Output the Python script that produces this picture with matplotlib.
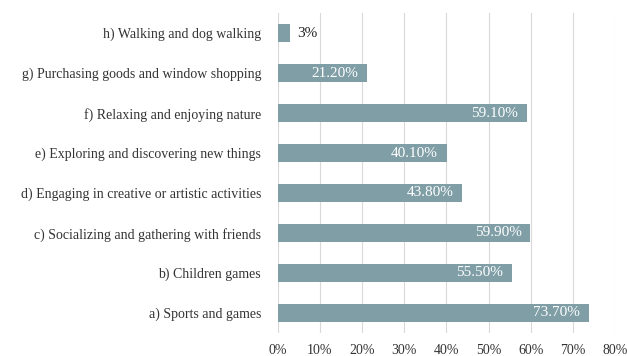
import matplotlib.pyplot as plt

categories = ['a) Sports and games', 'b) Children games',
              'c) Socializing and gathering with friends',
              'd) Engaging in creative or artistic activities',
              'e) Exploring and discovering new things',
              'f) Relaxing and enjoying nature',
              'g) Purchasing goods and window shopping',
              'h) Walking and dog walking']
values = [73.7, 55.5, 59.9, 43.8, 40.1, 59.1, 21.2, 3.0]
value_labels = ['73.70%', '55.50%', '59.90%', '43.80%', '40.10%', '59.10%', '21.20%', '3%']
xticks = [0, 10, 20, 30, 40, 50, 60, 70, 80]

plt.rcParams['font.family'] = ['Liberation Serif', 'DejaVu Serif']

fig = plt.figure(figsize=(6.27, 3.56), dpi=100)
ax = fig.add_axes([0.443, 0.065, 0.538, 0.898])

bar_color = '#7f9ea6'
ax.barh(range(len(categories)), values, height=0.45, color=bar_color, zorder=2)

for i, (v, lab) in enumerate(zip(values, value_labels)):
    if v < 10:
        ax.text(v + 1.5, i, lab, va='center', ha='left', fontsize=11, color='#222222')
    else:
        ax.text(v - 2.1, i, lab, va='center', ha='right', fontsize=11, color='white')

ax.set_yticks(range(len(categories)))
ax.set_yticklabels(categories, fontsize=10, color='#333333')
ax.set_xticks(xticks)
ax.set_xticklabels([f'{t}%' for t in xticks], fontsize=10, color='#333333')
ax.set_xlim(0, 80)
ax.set_ylim(-0.5, 7.5)

ax.grid(axis='x', color='#d9d9d9', linewidth=0.8, zorder=0)
for s in ax.spines.values():
    s.set_visible(False)
ax.tick_params(axis='both', length=0)
ax.tick_params(axis='x', pad=8)
ax.tick_params(axis='y', pad=12)

plt.savefig('out.png', dpi=100)
plt.close()
